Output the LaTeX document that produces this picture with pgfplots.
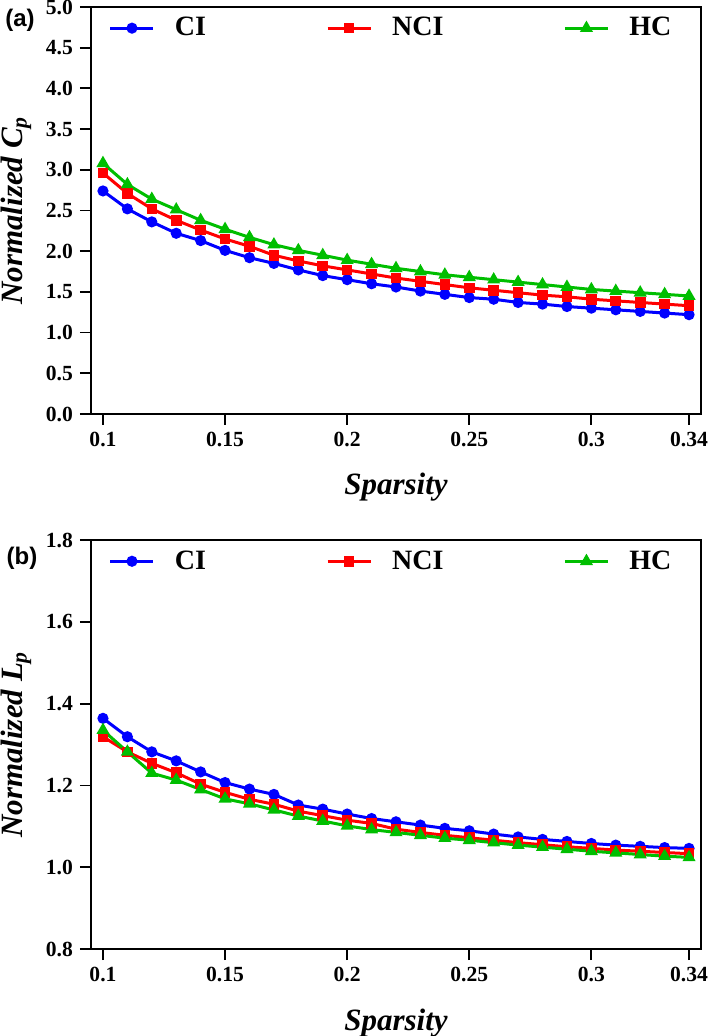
\documentclass[border=0pt]{standalone}
\usepackage{fontspec}
\setmainfont{Liberation Serif}
\newfontfamily\sansf{Liberation Sans}
\usepackage{pgfplots}
\usepackage{pgfplotstable}
\pgfplotsset{compat=1.18}
\definecolor{cblue}{RGB}{0,0,255}
\definecolor{cred}{RGB}{255,0,0}
\definecolor{cgreen}{RGB}{0,190,0}

\pgfplotstableread{
x CI NCI HC
0.10 2.74 2.96 3.08
0.11 2.52 2.71 2.82
0.12 2.36 2.52 2.64
0.13 2.22 2.38 2.51
0.14 2.13 2.26 2.38
0.15 2.01 2.15 2.27
0.16 1.92 2.06 2.17
0.17 1.85 1.95 2.08
0.18 1.77 1.88 2.01
0.19 1.70 1.82 1.95
0.20 1.65 1.77 1.89
0.21 1.60 1.72 1.84
0.22 1.56 1.67 1.79
0.23 1.51 1.63 1.75
0.24 1.47 1.59 1.71
0.25 1.43 1.55 1.68
0.26 1.41 1.52 1.65
0.27 1.37 1.49 1.62
0.28 1.35 1.46 1.59
0.29 1.32 1.44 1.56
0.30 1.30 1.41 1.53
0.31 1.28 1.39 1.51
0.32 1.26 1.37 1.49
0.33 1.24 1.35 1.47
0.34 1.22 1.33 1.45
}\topdata

\pgfplotstableread{
x CI NCI HC
0.10 1.364 1.319 1.335
0.11 1.319 1.282 1.282
0.12 1.282 1.254 1.230
0.13 1.260 1.231 1.213
0.14 1.233 1.203 1.190
0.15 1.207 1.183 1.167
0.16 1.191 1.166 1.155
0.17 1.178 1.154 1.140
0.18 1.152 1.137 1.125
0.19 1.142 1.126 1.113
0.20 1.130 1.115 1.101
0.21 1.119 1.107 1.092
0.22 1.111 1.093 1.085
0.23 1.103 1.085 1.078
0.24 1.095 1.078 1.071
0.25 1.089 1.072 1.066
0.26 1.081 1.066 1.060
0.27 1.074 1.060 1.054
0.28 1.068 1.055 1.049
0.29 1.063 1.050 1.044
0.30 1.058 1.046 1.039
0.31 1.054 1.042 1.035
0.32 1.051 1.039 1.031
0.33 1.048 1.036 1.027
0.34 1.046 1.033 1.024
}\botdata

\pgfplotsset{
  myaxis/.style={
    scale only axis, width=305pt,
    xmin=0.0951, xmax=0.3449,
    xtick={0.1,0.15,0.2,0.25,0.3,0.34},
    xticklabels={0.1,0.15,0.2,0.25,0.3,0.34},
    tick align=outside, tick pos=left,
    major tick length=5.5pt,
    axis line style={line width=0.9pt},
    every tick/.style={black, line width=0.9pt},
    tick label style={font=\fontsize{10.8}{12}\selectfont\bfseries},
    /pgf/number format/assume math mode=true,
    every axis x label/.style={at={(axis description cs:0.5,-0.18)}, anchor=center},
    every axis y label/.style={at={(axis description cs:-0.123,0.5)}, rotate=90, anchor=center},
    label style={font=\fontsize{15.5}{18}\selectfont\bfseries\itshape},
    xlabel={Sparsity},
    legend columns=3,
    legend cell align=left,
    legend style={draw=none, fill=none, at={(0.019,0.948)}, anchor=west,
      font=\fontsize{14}{16}\selectfont\bfseries,
      /tikz/every odd column/.append style={column sep=8pt},
      /tikz/every even column/.append style={column sep=58pt}},
    legend image code/.code={\draw[mark repeat=2,mark phase=2,#1] plot coordinates {(0pt,0pt) (10.75pt,0pt) (21.5pt,0pt)};},
    every axis plot/.append style={line width=1.5pt},
  },
  ci/.style={cblue, mark=*, mark size=2pt, mark options={solid}},
  nci/.style={cred, mark=square*, mark size=1.9pt, mark options={solid}},
  hc/.style={cgreen, mark=triangle*, mark size=2.3pt, mark options={solid}},
}

\begin{document}
\begin{tikzpicture}
\useasboundingbox (-45.5pt,-311pt) rectangle (309pt,207pt);
\begin{axis}[myaxis, at={(0pt,0pt)}, anchor=south west, height=203.5pt,
  ymin=0, ymax=5, ytick={0,0.5,...,5},
  yticklabel style={/pgf/number format/.cd, fixed, fixed zerofill, precision=1},
  ylabel={Normalized C\textsubscript{p}}]
\addplot[ci] table[x=x,y=CI] {\topdata};
\addplot[nci] table[x=x,y=NCI] {\topdata};
\addplot[hc] table[x=x,y=HC] {\topdata};
\legend{CI,NCI,HC}
\end{axis}
\begin{axis}[myaxis, at={(0pt,-267.5pt)}, anchor=south west, height=204.5pt,
  ymin=0.8, ymax=1.8, ytick={0.8,1.0,1.2,1.4,1.6,1.8},
  yticklabel style={/pgf/number format/.cd, fixed, fixed zerofill, precision=1},
  ylabel={Normalized L\textsubscript{p}}]
\addplot[ci] table[x=x,y=CI] {\botdata};
\addplot[nci] table[x=x,y=NCI] {\botdata};
\addplot[hc] table[x=x,y=HC] {\botdata};
\legend{CI,NCI,HC}
\end{axis}
\node[font=\sansf\bfseries\fontsize{12}{14}\selectfont] at (-35.5pt,197pt) {(a)};
\node[font=\sansf\bfseries\fontsize{12}{14}\selectfont] at (-34.5pt,-72pt) {(b)};
\end{tikzpicture}
\end{document}
